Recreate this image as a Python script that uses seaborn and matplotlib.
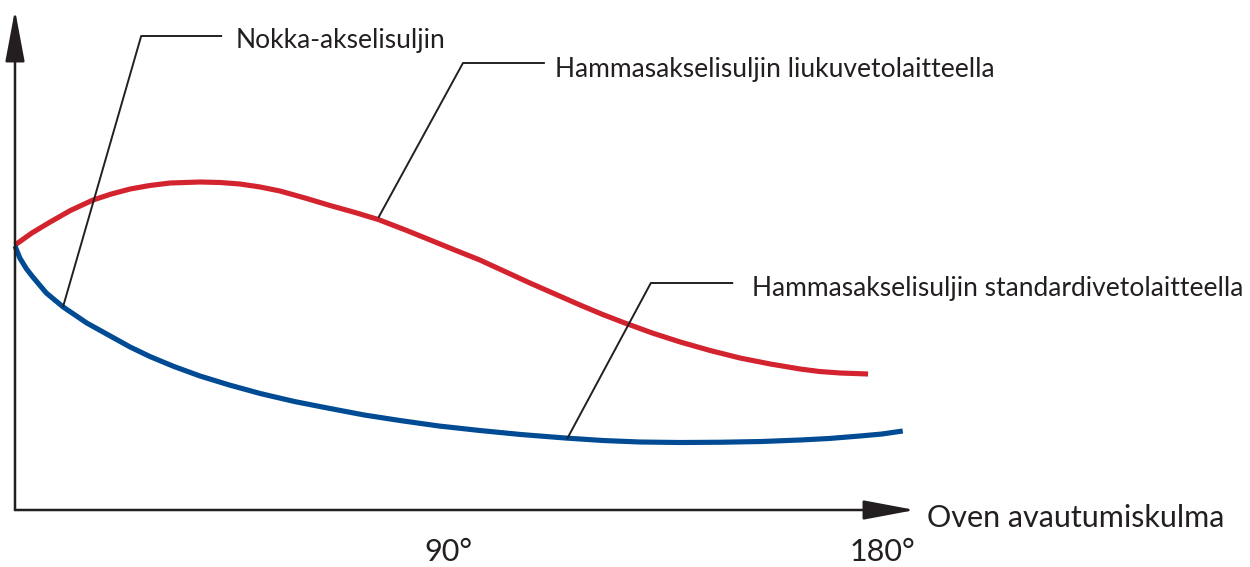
import matplotlib
matplotlib.use("Agg")
import matplotlib.pyplot as plt
import seaborn as sns
import pandas as pd

# opening angle (deg) vs. relative closing force
red_deg = [0, 3.5, 7.3, 11.5, 16.2, 20, 23.9, 28, 32.2, 38.4, 42.6, 46.7, 50.9, 55.0,
           60.2, 65.4, 70.6, 75.4, 80.8, 86.2, 91.3, 96.5, 101.7, 106.9, 112.1, 117.3,
           122, 126.6, 132.3, 138.1, 144.3, 150.5, 156.8, 163.0, 167, 171.3, 177.1]
red_val = [53.0, 55.4, 57.6, 59.9, 62.0, 63.2, 64.2, 64.9, 65.4, 65.6, 65.5, 65.2, 64.6, 63.8,
           62.4, 60.9, 59.5, 58.1, 56.1, 54.0, 52.0, 50.0, 47.7, 45.4, 43.2, 41.0,
           39.1, 37.4, 35.4, 33.6, 31.9, 30.4, 29.2, 28.2, 27.7, 27.4, 27.2]

blue_deg = [0, 1.0, 2.4, 3.7, 6.5, 10.0, 14.9, 19.4, 23.9, 28.0, 33, 38.4, 44.5, 50.9,
            58, 65.4, 72.5, 79.9, 88, 96.5, 105, 114.2, 122, 129.7, 138, 146.4, 155,
            163.0, 169, 175.4, 180, 184.3]
blue_val = [52.8, 50.4, 48.2, 46.6, 43.4, 40.6, 37.4, 35.0, 32.6, 30.7, 28.7, 26.8, 25.0, 23.3,
            21.7, 20.3, 19.0, 17.9, 16.8, 15.9, 15.1, 14.4, 13.9, 13.6, 13.5, 13.55, 13.7,
            14.0, 14.3, 14.8, 15.2, 15.8]

xtick_pos = [90, 180]
xtick_labels = ["90°", "180°"]
x_label = "Oven avautumiskulma"

red = pd.DataFrame({"kulma": red_deg, "voima": red_val})
blue = pd.DataFrame({"kulma": blue_deg, "voima": blue_val})

sns.set_style("white")
plt.rcParams["font.family"] = ["Lato", "DejaVu Sans"]

fig = plt.figure(figsize=(12.5, 5.67), dpi=100)
ax = fig.add_axes([15 / 1250, 57 / 567, 900 / 1250, 500 / 567])
ink = "#231f20"

sns.lineplot(data=red, x="kulma", y="voima", ax=ax, color="#d3232e", lw=3.7,
             estimator=None, sort=False, solid_capstyle="butt", clip_on=False)
sns.lineplot(data=blue, x="kulma", y="voima", ax=ax, color="#004b93", lw=3.7,
             estimator=None, sort=False, solid_capstyle="butt", clip_on=False)

ax.set_xlim(0, 186.84)
ax.set_ylim(0, 100)
for s in ax.spines.values():
    s.set_visible(False)

# axis arrows
arrow = dict(arrowstyle="-|>,head_length=1.6,head_width=0.3", mutation_scale=20,
             lw=1.8, color=ink, shrinkA=0, shrinkB=0)
ax.annotate("", xy=(1, 0), xytext=(0, 0), xycoords="axes fraction", arrowprops=arrow)
ax.annotate("", xy=(0, 1), xytext=(0, 0), xycoords="axes fraction", arrowprops=arrow)

ax.set_xticks(xtick_pos)
ax.set_xticklabels(xtick_labels, fontsize=22, color=ink)
ax.tick_params(axis="x", length=0, pad=20)
ax.set_yticks([])
ax.set_xlabel("")
ax.set_ylabel("")
ax.text(189.3, -3.4, x_label, fontsize=22, color=ink, va="baseline", ha="left", clip_on=False)

# leader lines: (curve point, corner, end), label x, label baseline
leaders = [
    ("Nokka-akselisuljin", [(9.96, 40.6), (26.2, 94.8), (43.0, 94.8)], 45.7, 92.4),
    ("Hammasakselisuljin liukuvetolaitteella", [(75.4, 58.4), (93.0, 89.4), (110.0, 89.4)], 112.1, 86.6),
    ("Hammasakselisuljin standardivetolaitteella", [(114.6, 14.2), (132.0, 45.4), (149.1, 45.4)], 153.0, 42.8),
]
for txt, pts, tx, ty in leaders:
    xs, ys = zip(*pts)
    ax.plot(xs, ys, color=ink, lw=1.4, clip_on=False, solid_capstyle="butt")
    ax.text(tx, ty, txt, fontsize=19, color=ink, va="baseline", ha="left", clip_on=False)

fig.savefig("out.png", dpi=100)
